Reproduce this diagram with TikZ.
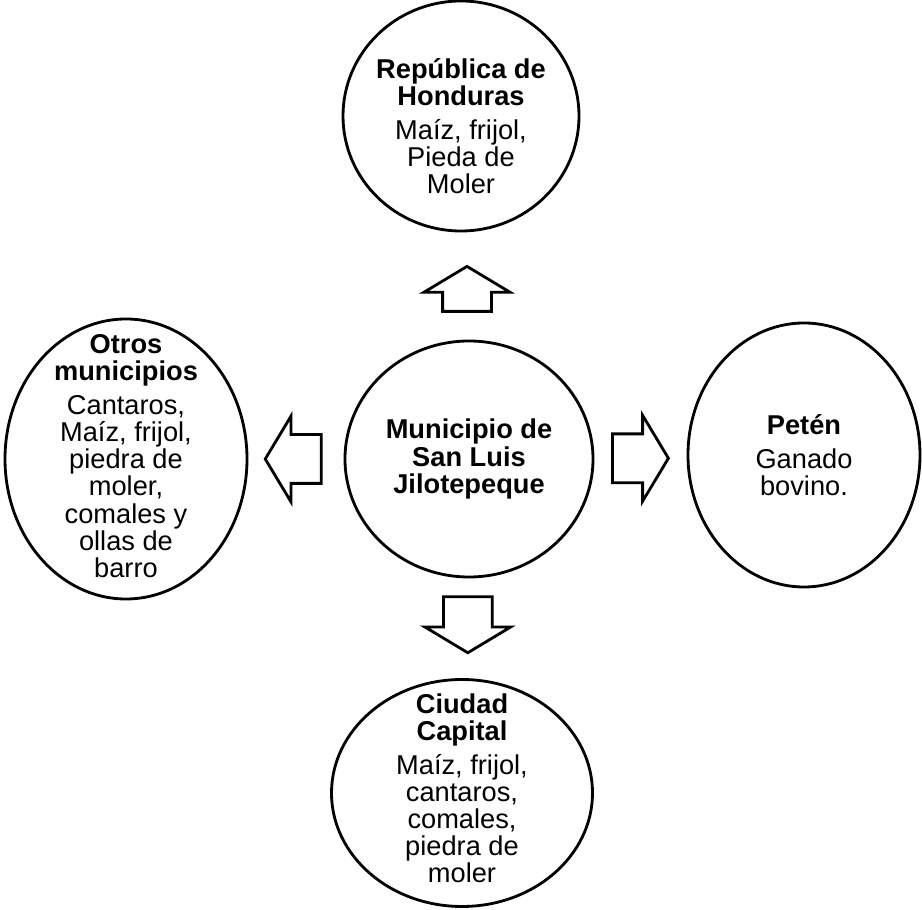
\documentclass[tikz,border=0pt]{standalone}
\usepackage{fontspec}
\setmainfont{Liberation Sans}
\usetikzlibrary{shapes,positioning,calc}

\begin{document}
\begin{tikzpicture}[node distance=6.8cm,
                    on grid,
                    line width=1.6pt,
                    font=\fontsize{15.5}{15.4}\selectfont]
    \tikzstyle{lugar}=[ellipse,
                       draw,
                       inner sep=0pt]
    \tikzstyle{texto}=[align=center]
    \tikzstyle{flecha}=[single arrow,
                        draw,
                        anchor=tail,
                        inner xsep=0pt,
                        inner ysep=0.46cm,
                        minimum width=1.66cm,
                        minimum height=1.12cm,
                        single arrow head extend=0.37cm,
                        single arrow tip angle=118]

    \useasboundingbox (0,0) rectangle (18.44,18.18);

    \node[lugar, minimum width=4.96cm, minimum height=4.72cm,
          label={[texto]center:{\textbf{Municipio de}\\\textbf{San Luis}\\\textbf{Jilotepeque}}}]
          (municipio) at (9.38,9.0) {};
    \node[lugar, minimum width=4.72cm, minimum height=4.6cm,
          label={[texto, yshift=-0.2cm]center:{\textbf{República de}\\\textbf{Honduras}\\[4pt]Maíz, frijol,\\Pieda de\\Moler}}]
          (honduras) [above=6.86cm of municipio, xshift=-1.6mm] {};
    \node[lugar, minimum width=5.22cm, minimum height=4.54cm,
          label={[texto, yshift=0.1cm]center:{\textbf{Ciudad}\\\textbf{Capital}\\[4pt]Maíz, frijol,\\cantaros,\\comales,\\piedra de\\moler}}]
          (capital) [below=6.68cm of municipio, xshift=-1.4mm] {};
    \node[lugar, minimum width=4.84cm, minimum height=5.6cm,
          label={[texto, yshift=0.06cm]center:{\textbf{Otros}\\\textbf{municipios}\\[4pt]Cantaros,\\Maíz, frijol,\\piedra de\\moler,\\comales y\\ollas de\\barro}}]
          (otros) [left=6.86cm of municipio] {};
    \node[lugar, minimum width=4.64cm, minimum height=5.28cm,
          label={[texto]center:{\textbf{Petén}\\[4pt]Ganado\\bovino.}}]
          (peten) [right=6.7cm of municipio, yshift=0.08cm] {};

    % flechas de bloque entre el municipio y cada destino
    \node[flecha, rotate=90, minimum height=0.9cm] (aHonduras) at ($(municipio.north)!0.25!(honduras.south)$) {};
    \node[flecha, rotate=-90] (aCapital) at ($(municipio.south)!0.17!(capital.north)$) {};
    \node[flecha, rotate=180] (aOtros) at ($(municipio.west)!0.22!(otros.east)$) {};
    \node[flecha] (aPeten) at ($(municipio.east)!0.18!(peten.west)$) {};
\end{tikzpicture}
\end{document}
